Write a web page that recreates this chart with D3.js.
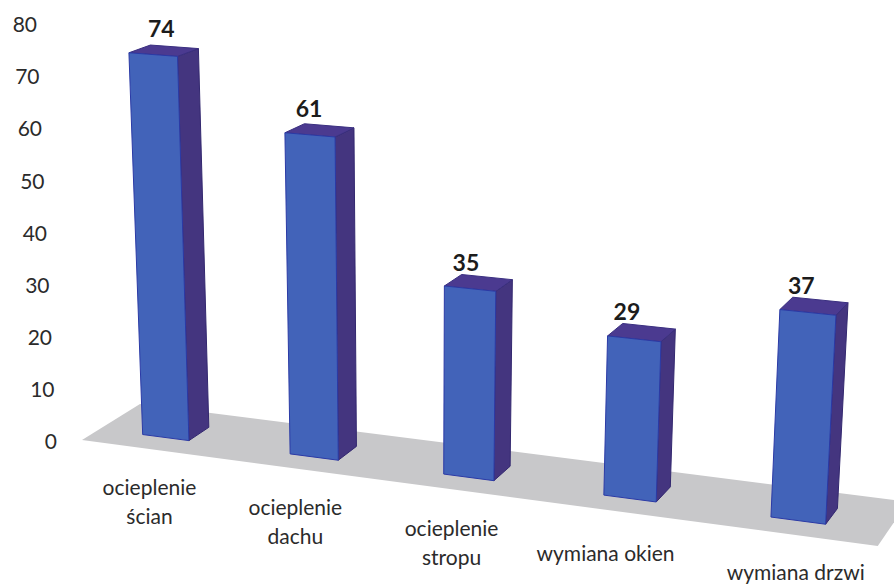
<!DOCTYPE html>
<html>
<head>
<meta charset="utf-8">
<script src="https://cdn.jsdelivr.net/npm/d3@7"></script>
<style>
  html, body { margin: 0; padding: 0; background: #fff; }
  svg { display: block; }
  text { font-family: Lato, "Open Sans", sans-serif; fill: #2b2b2b; }
</style>
</head>
<body>
<svg id="chart" width="894" height="586"></svg>
<script>
const categories = [["ocieplenie", "ścian"], ["ocieplenie", "dachu"], ["ocieplenie", "stropu"], ["wymiana okien"], ["wymiana drzwi"]];
const values = [74, 61, 35, 29, 37];
const yTicks = [0, 10, 20, 30, 40, 50, 60, 70, 80];

const svg = d3.select("#chart");

// band position along the floor, 0 = left edge, 1 = right edge
const band = d3.scaleBand()
  .domain(d3.range(categories.length))
  .range([0, 0.989])
  .paddingInner(0.682)
  .paddingOuter(0.298);

const unitHeight = 5.19;
const depthFront = 0.3;
const depthBack = 0.66;

// floor plane -> screen, plus a small lean of the verticals
function project(u, v, value) {
  const w = 1 - 0.1 * u + 0.04 * v;
  const x = (708 * u + 63.6 * v + 82) / w;
  const y = (51.4 * u - 19.8 * v + 440 - unitHeight * value) / w;
  return [x + (x - 416) * 0.00068 * value, y];
}

const path = d3.line();

// tick labels shift to the right going down, same as the 3D wall
const tickY = d3.scaleLinear().domain([0, 80]).range([442, 25]);
const tickX = d3.scaleLinear().domain([0, 80]).range([57, 37]);

const axis = svg.append("g")
  .call(d3.axisLeft(tickY).tickValues(yTicks).tickSize(0).tickPadding(0));
axis.select(".domain").remove();
axis.selectAll(".tick text")
  .attr("x", d => tickX(d))
  .style("font-family", "Lato, sans-serif")
  .style("font-size", "21px")
  .style("fill", "#2b2b2b");

// floor
svg.append("path")
  .attr("d", path([project(0, 0, 0), project(1, 0, 0), project(1, 1, 0), project(0, 1, 0)]) + "Z")
  .attr("fill", "#c8c8ca");

const bars = svg.selectAll(".bar")
  .data(values)
  .enter().append("g")
  .attr("class", "bar");

// side, top, front
bars.append("path")
  .attr("d", (d, i) => {
    const r = band(i) + band.bandwidth();
    return path([project(r, depthFront, 0), project(r, depthBack, 0), project(r, depthBack, d), project(r, depthFront, d)]) + "Z";
  })
  .attr("fill", "#44357f")
  .attr("stroke", "#33286f")
  .attr("stroke-width", 1);

bars.append("path")
  .attr("d", (d, i) => {
    const l = band(i);
    const r = l + band.bandwidth();
    return path([project(l, depthFront, d), project(r, depthFront, d), project(r, depthBack, d), project(l, depthBack, d)]) + "Z";
  })
  .attr("fill", "#4b3a90")
  .attr("stroke", "#3a2f80")
  .attr("stroke-width", 1);

bars.append("path")
  .attr("d", (d, i) => {
    const l = band(i);
    const r = l + band.bandwidth();
    return path([project(l, depthFront, 0), project(r, depthFront, 0), project(r, depthFront, d), project(l, depthFront, d)]) + "Z";
  })
  .attr("fill", "#4263b9")
  .attr("stroke", "#2b3aa6")
  .attr("stroke-width", 1);

// value labels, hand adjusted per bar
const valueNudgeX = [-13, -20, -21, -22, -19];
const valueNudgeY = [-10, -9, -6, -6, -6];

bars.append("text")
  .attr("x", (d, i) => project(band(i) + band.bandwidth() / 2, depthBack, d)[0] + valueNudgeX[i])
  .attr("y", (d, i) => project(band(i) + band.bandwidth() / 2, depthBack, d)[1] + valueNudgeY[i])
  .attr("text-anchor", "middle")
  .style("font-size", "23px")
  .style("font-weight", "bold")
  .style("fill", "#1c1c1c")
  .text(d => d);

// category labels hang under the front edge of the floor, hand adjusted per label
const labelNudgeX = [1, -3, -3, -12, 8];
const labelNudgeY = [0, 0, 0, 4, 0];

const catLabels = svg.selectAll(".cat")
  .data(categories)
  .enter().append("text")
  .attr("class", "cat")
  .attr("text-anchor", "middle")
  .style("font-size", "21px");

catLabels.each(function(lines, i) {
  const p = project(band(i) + band.bandwidth() / 2, 0, 0);
  d3.select(this).selectAll("tspan")
    .data(lines)
    .enter().append("tspan")
    .attr("x", p[0] + labelNudgeX[i])
    .attr("y", (d, j) => p[1] + 46 + labelNudgeY[i] + j * 29)
    .text(d => d);
});
</script>
</body>
</html>
